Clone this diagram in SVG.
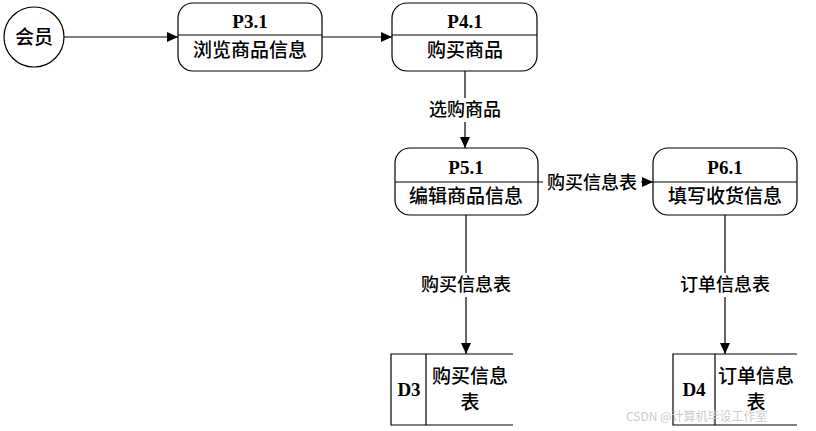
<svg xmlns="http://www.w3.org/2000/svg" width="816" height="431" viewBox="0 0 816 431">
<style>
.box{fill:#fff;stroke:#000;stroke-width:1.2}
.ln{stroke:#000;stroke-width:1.2;fill:none}
.id{font-family:"Liberation Serif",serif;font-weight:bold;font-size:19px;text-anchor:middle}
.cn{font-family:"Liberation Serif","Noto Sans CJK SC",sans-serif;font-size:19px;font-weight:500;text-anchor:middle}
.lbl{font-family:"Liberation Serif","Noto Sans CJK SC",sans-serif;font-size:18px;font-weight:500;text-anchor:middle}
.wm{font-family:"Noto Sans CJK SC",sans-serif;font-size:12px;fill:#cccccc}
</style>
<defs>
<marker id="ah" markerWidth="12" markerHeight="10" refX="11" refY="5" orient="auto" markerUnits="userSpaceOnUse">
<path d="M0,0 L11,5 L0,10 Z" fill="#000"/>
</marker>
</defs>
<rect width="816" height="431" fill="#fff"/>
<g id="connectors">
<line class="ln" x1="64" y1="37" x2="178" y2="37" marker-end="url(#ah)"/>
<line class="ln" x1="322" y1="37" x2="392" y2="37" marker-end="url(#ah)"/>
<line class="ln" x1="465" y1="71" x2="465" y2="148" marker-end="url(#ah)"/>
<rect x="418" y="98" width="94" height="24" fill="#fff"/>
<text class="lbl" x="465" y="116">选购商品</text>
<line class="ln" x1="538" y1="182" x2="653" y2="182" marker-end="url(#ah)"/>
<rect x="543" y="172" width="98" height="20" fill="#fff"/>
<text class="lbl" x="592" y="189">购买信息表</text>
<line class="ln" x1="466" y1="215" x2="466" y2="354" marker-end="url(#ah)"/>
<rect x="411" y="273" width="110" height="24" fill="#fff"/>
<text class="lbl" x="466" y="291">购买信息表</text>
<line class="ln" x1="725" y1="215" x2="725" y2="354" marker-end="url(#ah)"/>
<rect x="670" y="273" width="110" height="24" fill="#fff"/>
<text class="lbl" x="725" y="291">订单信息表</text>
</g>
<g id="member">
<circle class="box" cx="34" cy="37" r="30"/>
<text class="cn" x="34" y="44">会员</text>
</g>
<g id="p31">
<rect class="box" x="178" y="3" width="144" height="68" rx="15"/>
<line class="ln" x1="178" y1="35" x2="322" y2="35"/>
<text class="id" x="250" y="28">P3.1</text>
<text class="cn" x="250" y="57">浏览商品信息</text>
</g>
<g id="p41">
<rect class="box" x="392" y="3" width="145" height="68" rx="15"/>
<line class="ln" x1="392" y1="35" x2="537" y2="35"/>
<text class="id" x="465" y="28">P4.1</text>
<text class="cn" x="465" y="57">购买商品</text>
</g>
<g id="p51">
<rect class="box" x="395" y="148" width="143" height="67" rx="15"/>
<line class="ln" x1="395" y1="182" x2="538" y2="182"/>
<text class="id" x="466" y="174">P5.1</text>
<text class="cn" x="466" y="203">编辑商品信息</text>
</g>
<g id="p61">
<rect class="box" x="653" y="148" width="144" height="67" rx="15"/>
<line class="ln" x1="653" y1="182" x2="797" y2="182"/>
<text class="id" x="725" y="174">P6.1</text>
<text class="cn" x="725" y="203">填写收货信息</text>
</g>
<g id="d3">
<path class="ln" d="M513,354 L391,354 L391,425 L513,425 M426,354 L426,425"/>
<text class="id" x="409" y="396">D3</text>
<text class="cn" x="470" y="383">购买信息</text>
<text class="cn" x="470" y="409">表</text>
</g>
<g id="d4">
<path class="ln" d="M797,354 L673,354 L673,425 L797,425 M715,354 L715,425"/>
<text class="id" x="694" y="396">D4</text>
<text class="cn" x="756" y="383">订单信息</text>
<text class="cn" x="756" y="409">表</text>
</g>
<text class="wm" x="626" y="421">CSDN @计算机毕设工作室</text>
</svg>
